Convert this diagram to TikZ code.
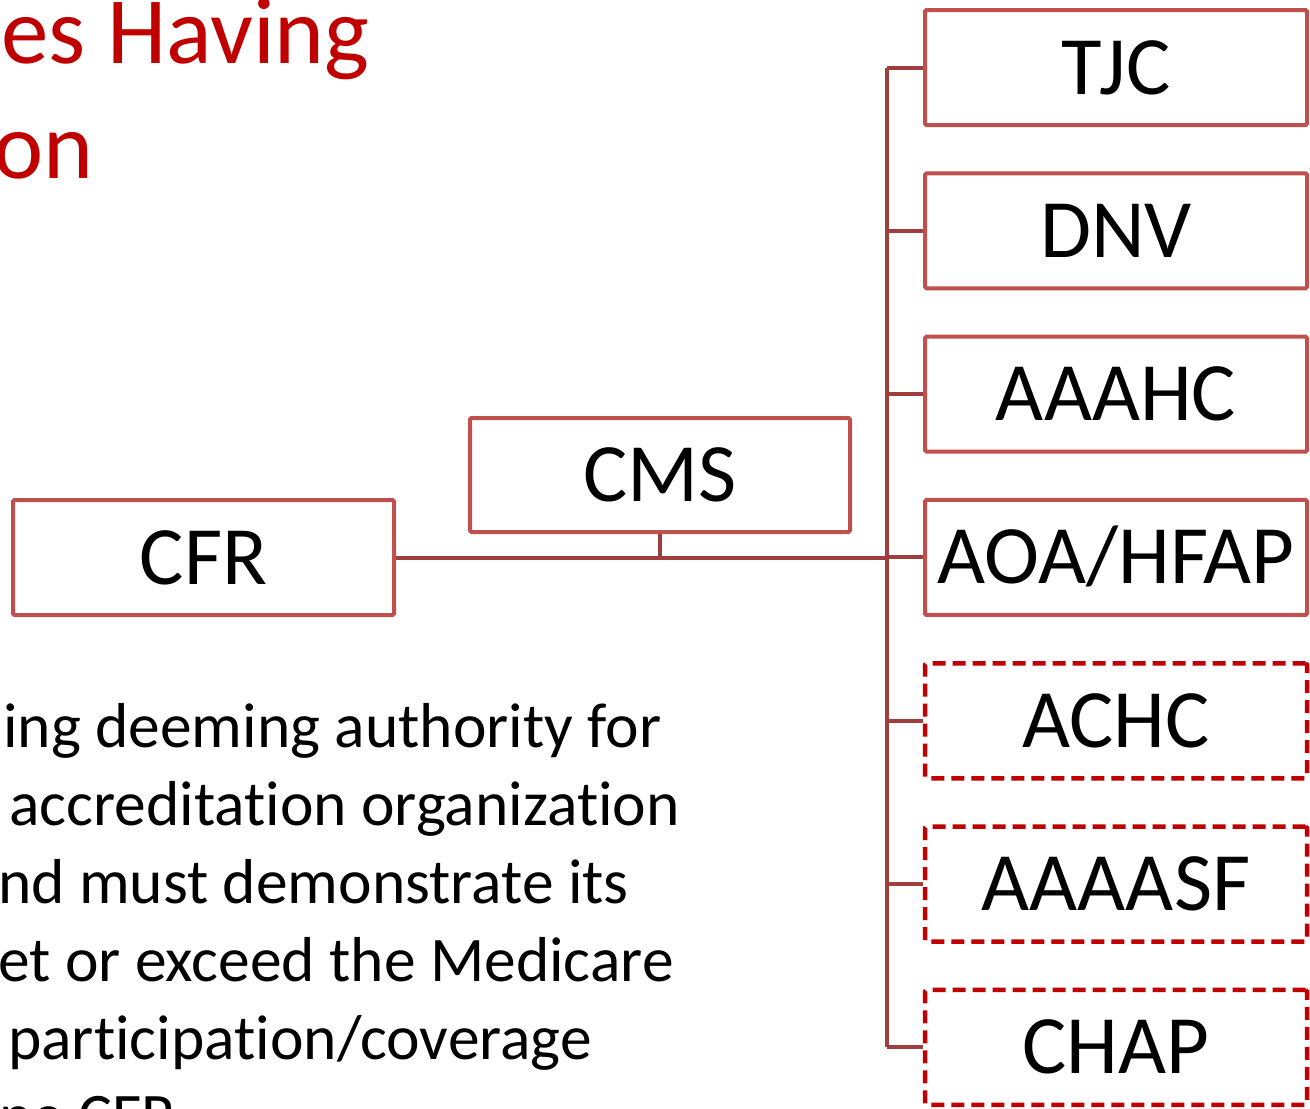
\documentclass[tikz,border=0pt]{standalone}
\usepackage{fontspec}
\setmainfont[Ligatures=NoCommon]{Carlito}
\definecolor{boxred}{RGB}{192,80,77}
\definecolor{connred}{RGB}{160,62,62}
\definecolor{dashred}{RGB}{192,0,0}
\definecolor{titlered}{RGB}{192,0,0}
\begin{document}
\begin{tikzpicture}[x=1pt,y=-1pt,
  orgbox/.style={draw=boxred,line width=4pt,rounded corners=1.5pt,fill=white,
    minimum width=380pt,minimum height=113pt,inner sep=0pt,
    font=\fontsize{83}{98}\selectfont,text height=53pt,text depth=0pt},
  newbox/.style={orgbox,draw=dashred,line width=4.5pt,dash pattern=on 13pt off 7pt},
  conn/.style={draw=connred,line width=4pt},
  titletext/.style={anchor=base west,inner sep=0pt,text=titlered,font=\fontsize{95}{115}\selectfont},
  bodytext/.style={anchor=base west,inner sep=0pt,text=black,font=\fontsize{63.5}{78}\selectfont}]
\useasboundingbox (0,0) rectangle (1310,1109);
\fill[white] (0,0) rectangle (1310,1109);

% title (cropped by the page edge, as in the reference)
\node[titletext] (title1) at (1,63) {es Having};
\node[titletext] (title2) at (-7,178) {on};

% body text (cropped by the page edge, as in the reference)
\node[bodytext] (l1) at (3,747) {ing deeming authority for};
\node[bodytext] (l2) at (9,825) {accreditation organization};
\node[bodytext] (l3) at (-2,903) {nd must demonstrate its};
\node[bodytext] (l4) at (-2,981) {et or exceed the Medicare};
\node[bodytext] (l5) at (8,1059) {participation/coverage};
\node[bodytext] (l6) at (-1,1137) {ne CFR};

% trunk position
\coordinate (trunk) at (887,0);

% boxes
\node[orgbox,minimum width=381pt,minimum height=115pt] (cfr) at (203.5,557.5) {CFR};
\node[orgbox,minimum height=114pt] (cms) at (660,475) {CMS};

\foreach \name/\lab/\i/\sty in {b1/TJC/0/orgbox,b2/DNV/1/orgbox,b3/AAAHC/2/orgbox,b4/AOA\slash HFAP/3/orgbox,b5/ACHC/4/newbox,b6/AAAASF/5/newbox,b7/CHAP/6/newbox}{
  \node[\sty,minimum width=382pt,minimum height=115pt] (\name) at (1116,67.5+163.33*\i) {\lab};
}

% connectors
\draw[conn] (b1.west -| trunk) -- (b7.west -| trunk);
\foreach \name in {b1,b2,b3,b4,b5,b6,b7}{
  \draw[conn] (\name.west -| trunk) -- (\name.west);
}
\draw[conn] (cfr.east) -- (cfr.east -| trunk);
\draw[conn] (cms.south) -- (cms.south |- cfr.east);
\end{tikzpicture}
\end{document}
